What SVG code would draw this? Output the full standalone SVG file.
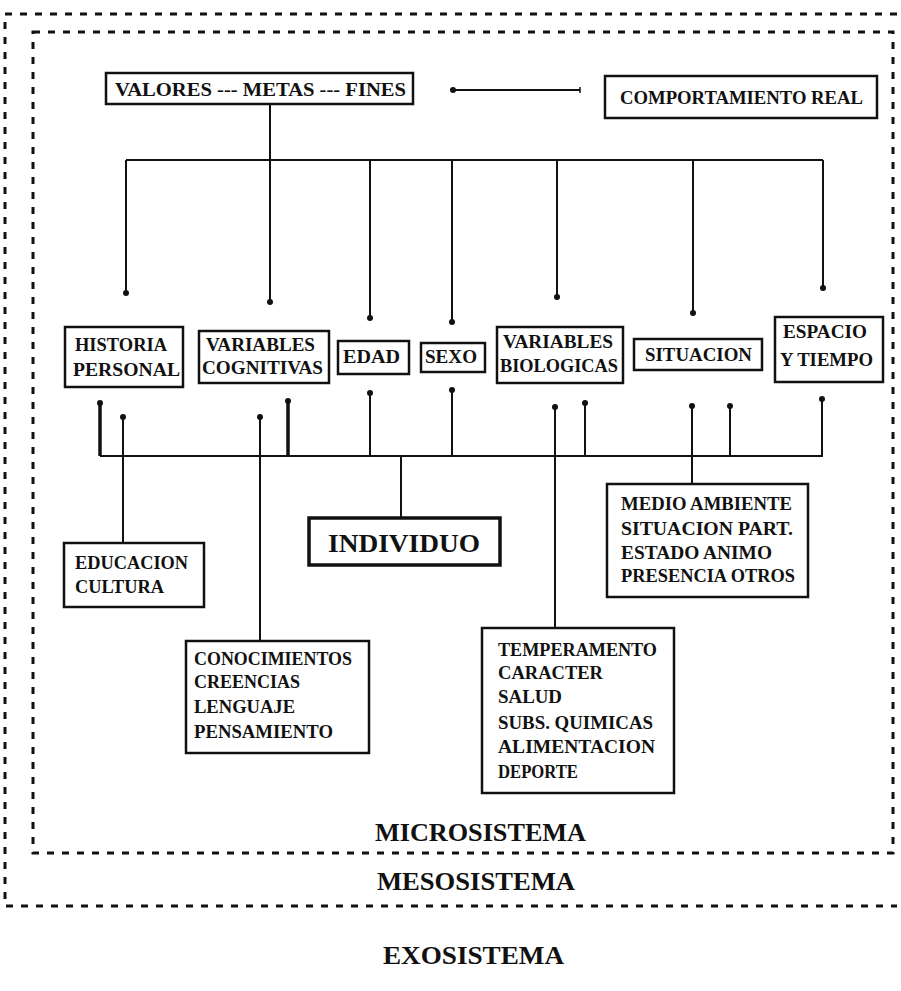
<svg xmlns="http://www.w3.org/2000/svg" width="901" height="991" viewBox="0 0 901 991">
  <style>
    .bg { fill: #ffffff; }
    .frame { fill: none; stroke: #111; stroke-width: 3; stroke-dasharray: 7 8; }
    .box { fill: #fff; stroke: #111; stroke-width: 2.5; }
    .box-strong { fill: #fff; stroke: #111; stroke-width: 3.5; }
    .link { fill: none; stroke: #111; stroke-width: 2; }
    .link-thick { fill: none; stroke: #111; stroke-width: 3.5; }
    text { font-family: "Liberation Serif", "Times New Roman", serif; font-weight: bold; fill: #111; }
    .t { font-size: 18px; }
    .t-big { font-size: 26px; }
    .t-sys { font-size: 25px; }
  </style>
  <defs>
    <marker id="tip" viewBox="-4 -4 8 8" markerWidth="8" markerHeight="8" markerUnits="userSpaceOnUse" refX="0" refY="0" orient="auto">
      <circle cx="0" cy="0" r="3" fill="#111"/>
    </marker>
    <marker id="tick" viewBox="-4 -4 8 8" markerWidth="8" markerHeight="8" markerUnits="userSpaceOnUse" refX="0" refY="0" orient="auto">
      <path d="M0,-3 L0,3" stroke="#111" stroke-width="1.5"/>
    </marker>
  </defs>

  <rect class="bg" x="0" y="0" width="901" height="991"/>

  <!-- system frames -->
  <g id="frames">
    <path class="frame" d="M897,14 H5 V906 H897"/>
    <rect class="frame" x="33" y="32" width="860" height="821"/>
  </g>

  <!-- connectors -->
  <g id="connectors">
    <!-- values to behaviour -->
    <path class="link" d="M453,90 H580" marker-start="url(#tip)" marker-end="url(#tick)"/>
    <!-- upper distribution bar -->
    <path class="link" d="M126,160 H823"/>
    <path class="link" d="M270,104 V302" marker-end="url(#tip)"/>
    <path class="link" d="M126,160 V293" marker-end="url(#tip)"/>
    <path class="link" d="M370,160 V318" marker-end="url(#tip)"/>
    <path class="link" d="M452,160 V322" marker-end="url(#tip)"/>
    <path class="link" d="M557,160 V297" marker-end="url(#tip)"/>
    <path class="link" d="M693,160 V313" marker-end="url(#tip)"/>
    <path class="link" d="M823,160 V288" marker-end="url(#tip)"/>
    <!-- lower bar from the individual -->
    <path class="link" d="M100,456 H822 V399" marker-end="url(#tip)"/>
    <path class="link-thick" d="M100,456 V403" marker-end="url(#tip)"/>
    <path class="link-thick" d="M288,456 V401" marker-end="url(#tip)"/>
    <path class="link" d="M123,543 V417" marker-end="url(#tip)"/>
    <path class="link" d="M260,641 V417" marker-end="url(#tip)"/>
    <path class="link" d="M370,456 V393" marker-end="url(#tip)"/>
    <path class="link" d="M401,456 V518"/>
    <path class="link" d="M452,456 V390" marker-end="url(#tip)"/>
    <path class="link" d="M555,628 V407" marker-end="url(#tip)"/>
    <path class="link" d="M585,456 V403" marker-end="url(#tip)"/>
    <path class="link" d="M692,484 V406" marker-end="url(#tip)"/>
    <path class="link" d="M730,456 V406" marker-end="url(#tip)"/>
  </g>

  <g id="valores">
    <rect class="box" x="106" y="73" width="307" height="31"/>
    <text class="t" x="115" y="96" textLength="291" lengthAdjust="spacingAndGlyphs">VALORES --- METAS --- FINES</text>
  </g>
  <g id="comportamiento">
    <rect class="box" x="605" y="76" width="272" height="42"/>
    <text class="t" x="620" y="104" textLength="243" lengthAdjust="spacingAndGlyphs">COMPORTAMIENTO REAL</text>
  </g>

  <g id="historia">
    <rect class="box" x="65" y="327" width="118" height="60"/>
    <text class="t" x="75" y="351" textLength="92" lengthAdjust="spacingAndGlyphs">HISTORIA</text>
    <text class="t" x="73" y="376" textLength="107" lengthAdjust="spacingAndGlyphs">PERSONAL</text>
  </g>
  <g id="cognitivas">
    <rect class="box" x="199" y="331" width="130" height="52"/>
    <text class="t" x="206" y="351" textLength="109" lengthAdjust="spacingAndGlyphs">VARIABLES</text>
    <text class="t" x="202" y="374" textLength="121" lengthAdjust="spacingAndGlyphs">COGNITIVAS</text>
  </g>
  <g id="edad">
    <rect class="box" x="338" y="341" width="71" height="33"/>
    <text class="t" x="343" y="363" textLength="57" lengthAdjust="spacingAndGlyphs">EDAD</text>
  </g>
  <g id="sexo">
    <rect class="box" x="421" y="343" width="64" height="29"/>
    <text class="t" x="425" y="363" textLength="52" lengthAdjust="spacingAndGlyphs">SEXO</text>
  </g>
  <g id="biologicas">
    <rect class="box" x="497" y="327" width="126" height="56"/>
    <text class="t" x="503" y="348" textLength="110" lengthAdjust="spacingAndGlyphs">VARIABLES</text>
    <text class="t" x="500" y="372" textLength="118" lengthAdjust="spacingAndGlyphs">BIOLOGICAS</text>
  </g>
  <g id="situacion">
    <rect class="box" x="634" y="339" width="128" height="31"/>
    <text class="t" x="645" y="361" textLength="107" lengthAdjust="spacingAndGlyphs">SITUACION</text>
  </g>
  <g id="espacio">
    <rect class="box" x="775" y="317" width="108" height="65"/>
    <text class="t" x="783" y="338" textLength="84" lengthAdjust="spacingAndGlyphs">ESPACIO</text>
    <text class="t" x="780" y="366" textLength="93" lengthAdjust="spacingAndGlyphs">Y TIEMPO</text>
  </g>

  <g id="individuo">
    <rect class="box-strong" x="309" y="518" width="191" height="47"/>
    <text class="t-big" x="328" y="552" textLength="152" lengthAdjust="spacingAndGlyphs">INDIVIDUO</text>
  </g>
  <g id="educacion">
    <rect class="box" x="64" y="543" width="140" height="64"/>
    <text class="t" x="75" y="569" textLength="113" lengthAdjust="spacingAndGlyphs">EDUCACION</text>
    <text class="t" x="75" y="593" textLength="89" lengthAdjust="spacingAndGlyphs">CULTURA</text>
  </g>
  <g id="conocimientos">
    <rect class="box" x="186" y="641" width="183" height="112"/>
    <text class="t" x="194" y="665" textLength="158" lengthAdjust="spacingAndGlyphs">CONOCIMIENTOS</text>
    <text class="t" x="194" y="688" textLength="106" lengthAdjust="spacingAndGlyphs">CREENCIAS</text>
    <text class="t" x="194" y="713" textLength="101" lengthAdjust="spacingAndGlyphs">LENGUAJE</text>
    <text class="t" x="194" y="738" textLength="139" lengthAdjust="spacingAndGlyphs">PENSAMIENTO</text>
  </g>
  <g id="medio">
    <rect class="box" x="607" y="484" width="201" height="113"/>
    <text class="t" x="621" y="510" textLength="171" lengthAdjust="spacingAndGlyphs">MEDIO AMBIENTE</text>
    <text class="t" x="621" y="535" textLength="172" lengthAdjust="spacingAndGlyphs">SITUACION PART.</text>
    <text class="t" x="621" y="559" textLength="151" lengthAdjust="spacingAndGlyphs">ESTADO ANIMO</text>
    <text class="t" x="621" y="582" textLength="174" lengthAdjust="spacingAndGlyphs">PRESENCIA OTROS</text>
  </g>
  <g id="temperamento">
    <rect class="box" x="482" y="628" width="192" height="165"/>
    <text class="t" x="498" y="656" textLength="159" lengthAdjust="spacingAndGlyphs">TEMPERAMENTO</text>
    <text class="t" x="498" y="679" textLength="105" lengthAdjust="spacingAndGlyphs">CARACTER</text>
    <text class="t" x="498" y="703" textLength="64" lengthAdjust="spacingAndGlyphs">SALUD</text>
    <text class="t" x="498" y="729" textLength="155" lengthAdjust="spacingAndGlyphs">SUBS. QUIMICAS</text>
    <text class="t" x="498" y="753" textLength="157" lengthAdjust="spacingAndGlyphs">ALIMENTACION</text>
    <text class="t" x="498" y="778" textLength="80" lengthAdjust="spacingAndGlyphs">DEPORTE</text>
  </g>

  <g id="sistemas">
    <text class="t-sys" x="375" y="841" textLength="211" lengthAdjust="spacingAndGlyphs">MICROSISTEMA</text>
    <text class="t-sys" x="377" y="890" textLength="198" lengthAdjust="spacingAndGlyphs">MESOSISTEMA</text>
    <text class="t-sys" x="383" y="964" textLength="181" lengthAdjust="spacingAndGlyphs">EXOSISTEMA</text>
  </g>
</svg>
